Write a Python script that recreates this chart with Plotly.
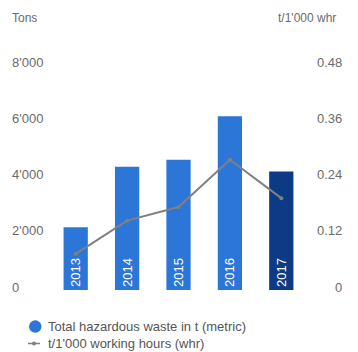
import plotly.graph_objects as go

years = ["2013", "2014", "2015", "2016", "2017"]
waste_tons = [2230, 4380, 4630, 6180, 4210]
rate_per_1000whr = [0.077, 0.148, 0.177, 0.278, 0.196]
left_ticks = [0, 2000, 4000, 6000, 8000]
left_labels = ["0", "2'000", "4'000", "6'000", "8'000"]
right_ticks = [0, 0.12, 0.24, 0.36, 0.48]
right_labels = ["0", "0.12", "0.24", "0.36", "0.48"]
legend_labels = ["Total hazardous waste in t (metric)", "t/1'000 working hours (whr)"]

BLUE = "#2c76d8"
NAVY = "#0c3a85"
LINE_GRAY = "#808080"
bar_colors = [BLUE] * 4 + [NAVY]
FONT = "Liberation Sans, Arial, sans-serif"
GRAY = "#6b6b6b"

W, H = 358, 352
ML, MR, MT, MB = 50, 51, 65, 62
PW, PH = W - ML - MR, H - MT - MB


def px(x):
    return (x - ML) / PW


def py(y):
    return (H - MB - y) / PH


fig = go.Figure()
fig.add_trace(go.Bar(
    x=years, y=waste_tons, marker=dict(color=bar_colors, line=dict(width=0)),
    text=years, textposition="inside", insidetextanchor="start", textangle=-90,
    textfont=dict(color="white", size=13, family=FONT),
    showlegend=False, hoverinfo="skip",
))
fig.add_trace(go.Scatter(
    x=years, y=rate_per_1000whr, yaxis="y2", mode="lines+markers",
    line=dict(color=LINE_GRAY, width=2), marker=dict(color=LINE_GRAY, size=4),
    showlegend=False,
))

annotations = []
for v, lab in zip(left_ticks, left_labels):
    annotations.append(dict(x=0, xref="paper", xshift=-40, y=v, yref="y", yshift=3,
                            text=lab, showarrow=False, xanchor="left", yanchor="middle",
                            font=dict(size=13, color=GRAY, family=FONT)))
for v, lab in zip(right_ticks, right_labels):
    annotations.append(dict(x=1, xref="paper", xshift=37, y=v, yref="y2", yshift=3,
                            text=lab, showarrow=False, xanchor="right", yanchor="middle",
                            font=dict(size=13, color=GRAY, family=FONT)))
annotations.append(dict(x=0, xref="paper", xshift=-40, y=1, yref="paper", yshift=47,
                        text="Tons", showarrow=False, xanchor="left", yanchor="middle",
                        font=dict(size=12, color=GRAY, family=FONT)))
annotations.append(dict(x=1, xref="paper", xshift=31, y=1, yref="paper", yshift=47,
                        text="t/1'000 whr", showarrow=False, xanchor="right", yanchor="middle",
                        font=dict(size=12, color=GRAY, family=FONT)))

# manual legend
leg_rows = [326.5, 343.5]
for lab, ry in zip(legend_labels, leg_rows):
    annotations.append(dict(x=px(46), xref="paper", y=py(ry), yref="paper",
                            text=lab, showarrow=False, xanchor="left", yanchor="middle",
                            font=dict(size=13, color="#555555", family=FONT)))

shapes = [
    dict(type="circle", xref="paper", yref="paper",
         x0=px(29), x1=px(41.5), y0=py(332.8), y1=py(320.3),
         fillcolor=BLUE, line=dict(width=0)),
    dict(type="line", xref="paper", yref="paper",
         x0=px(28), x1=px(40), y0=py(leg_rows[1]), y1=py(leg_rows[1]),
         line=dict(color=LINE_GRAY, width=1.5)),
    dict(type="circle", xref="paper", yref="paper",
         x0=px(32), x1=px(36), y0=py(leg_rows[1] + 2), y1=py(leg_rows[1] - 2),
         fillcolor=LINE_GRAY, line=dict(width=0)),
]

fig.update_layout(
    width=W, height=H,
    margin=dict(l=ML, r=MR, t=MT, b=MB, autoexpand=False),
    paper_bgcolor="white", plot_bgcolor="white",
    font=dict(family=FONT, size=13, color=GRAY),
    bargap=0.528,
    xaxis=dict(showticklabels=False, showgrid=False, zeroline=False, showline=False,
               range=[-0.5, 4.5]),
    yaxis=dict(range=[0, 8000], showticklabels=False, showgrid=False, zeroline=False,
               showline=False),
    yaxis2=dict(range=[0, 0.48], overlaying="y", side="right", showticklabels=False,
                showgrid=False, zeroline=False, showline=False),
    annotations=annotations,
    shapes=shapes,
    showlegend=False,
)

fig.write_html("out.html")
